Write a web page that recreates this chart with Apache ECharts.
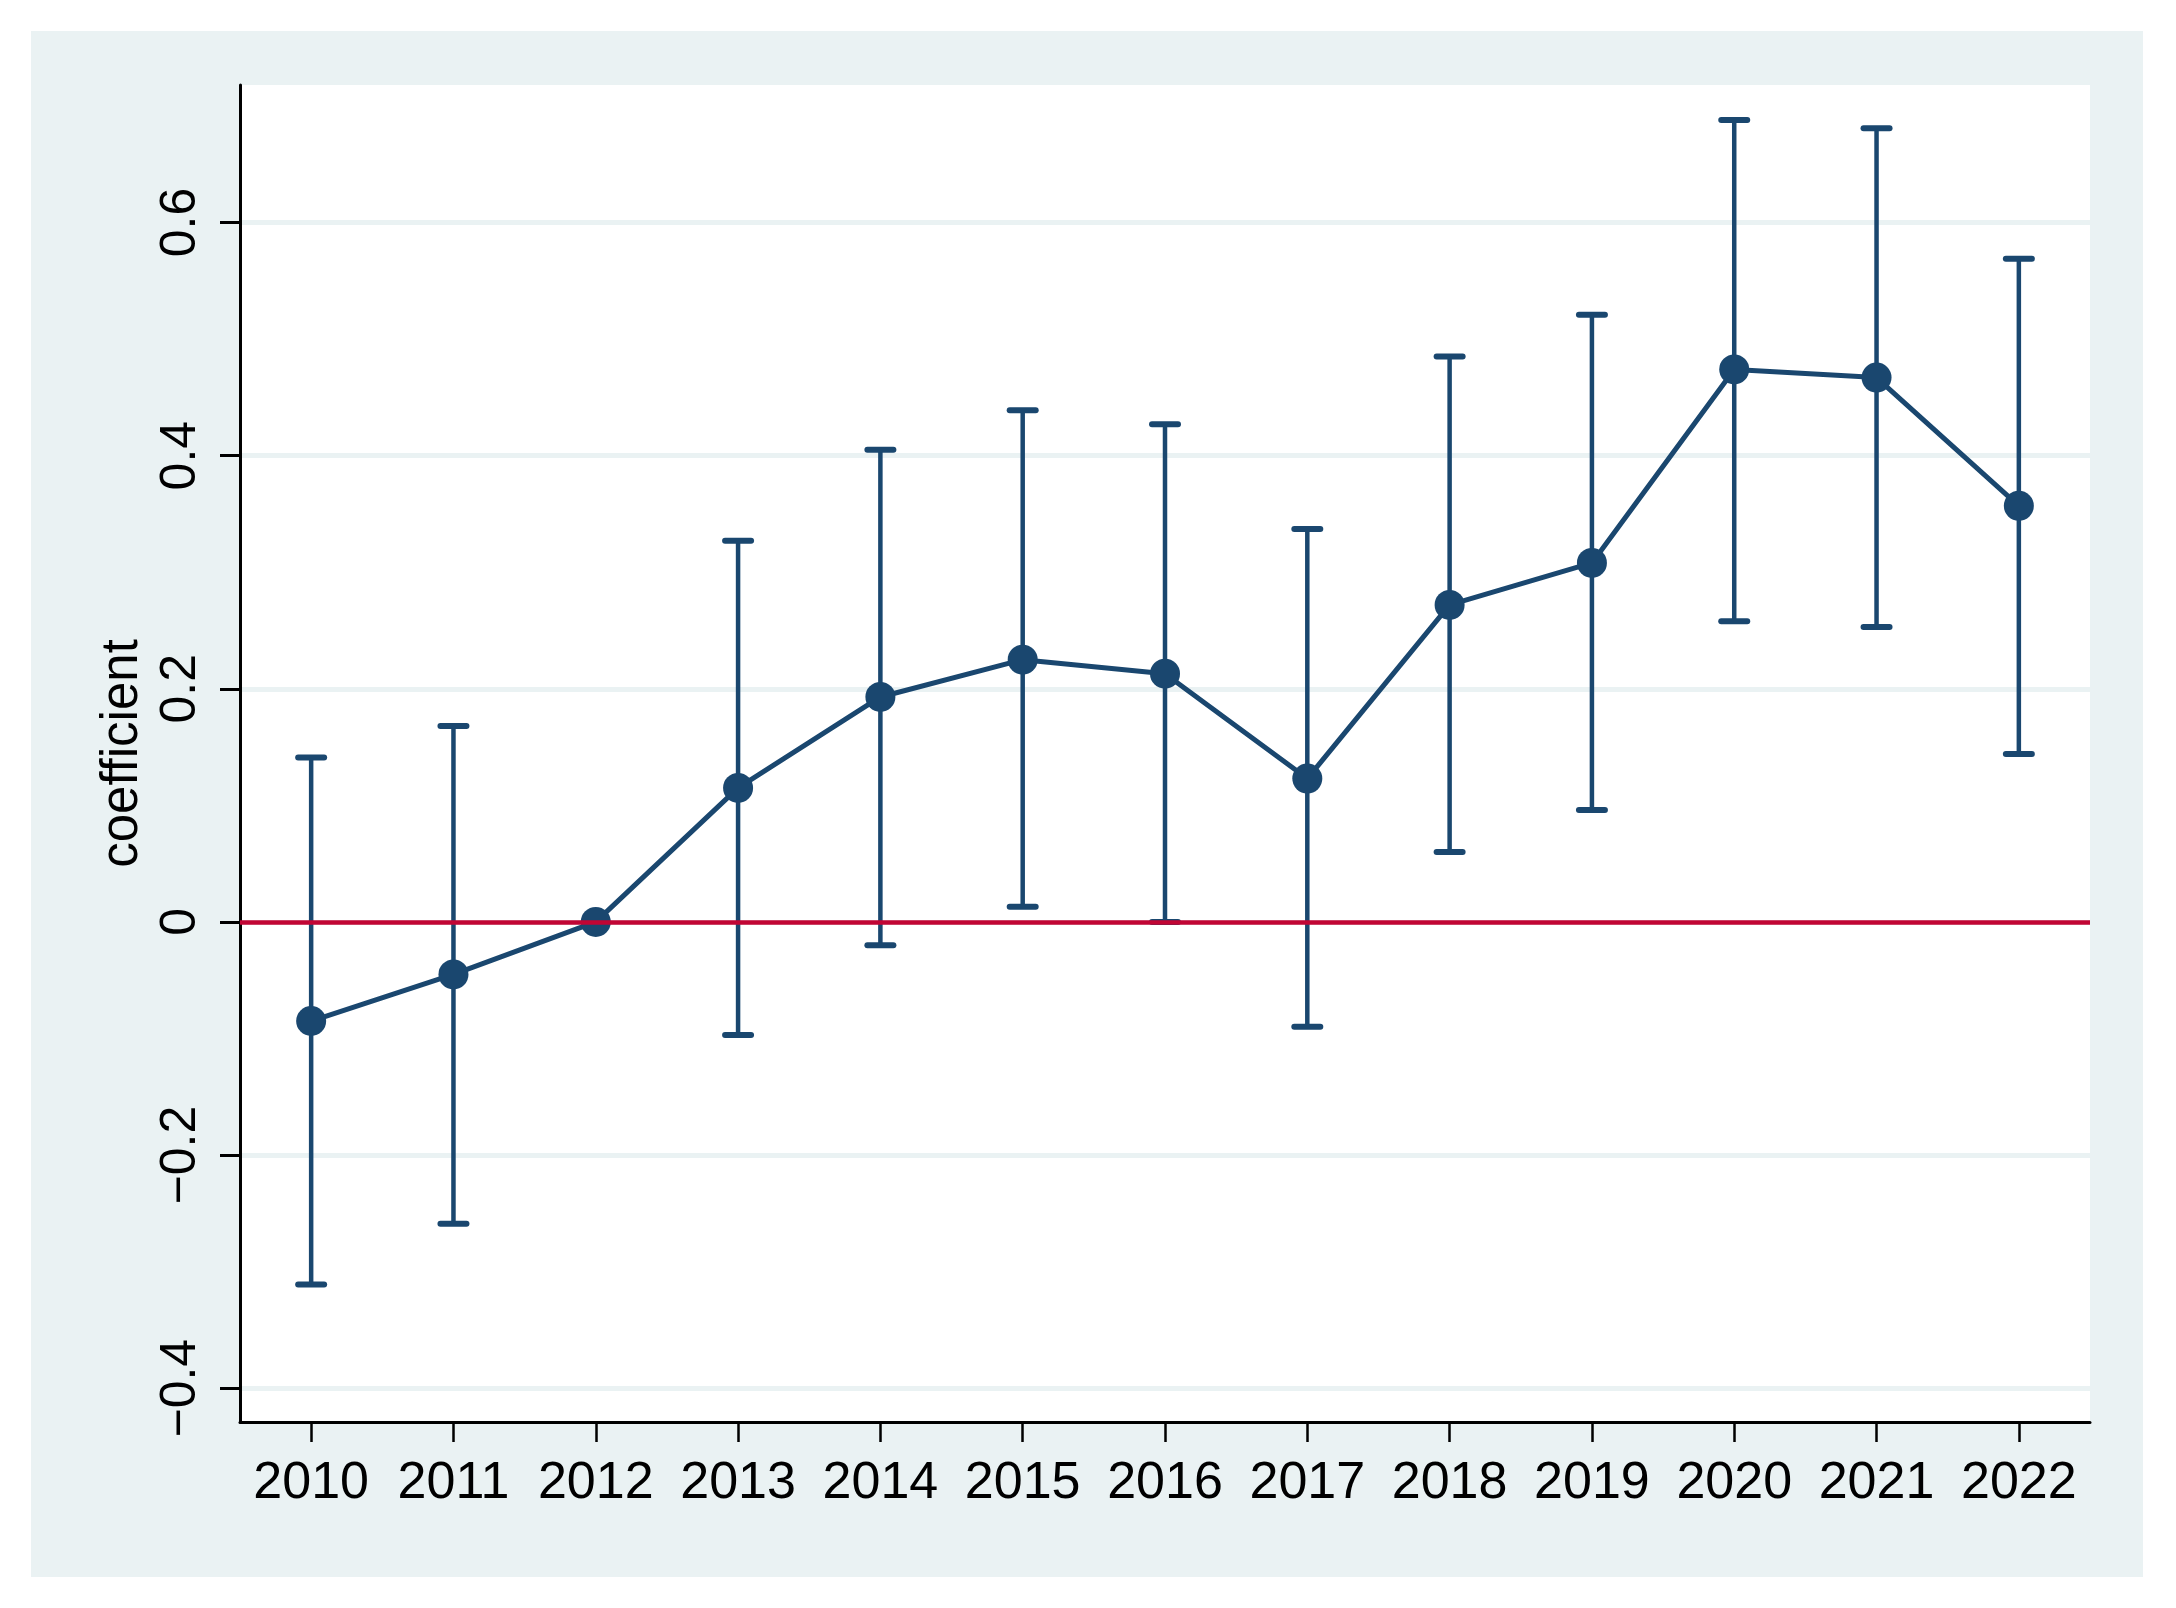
<!DOCTYPE html>
<html><head><meta charset="utf-8">
<script src="https://cdn.jsdelivr.net/npm/echarts@6/dist/echarts.min.js"></script>
<style>
html,body{margin:0;padding:0;background:#fff;width:2176px;height:1608px;overflow:hidden}
#c{position:absolute;left:31px;top:31px;width:2112px;height:1546px}
</style>
</head><body><div id="c"></div>
<script>
const years = ['2010','2011','2012','2013','2014','2015','2016','2017','2018','2019','2020','2021','2022'];
const coef   = [-0.085,-0.045, 0.000, 0.115, 0.193, 0.225, 0.213, 0.123, 0.272, 0.308, 0.474, 0.467, 0.357];
const ciLow  = [-0.311,-0.259, null, -0.097,-0.020, 0.013, 0.000,-0.090, 0.060, 0.096, 0.258, 0.253, 0.144];
const ciHigh = [ 0.141, 0.168, null,  0.327, 0.405, 0.439, 0.427, 0.337, 0.485, 0.521, 0.688, 0.681, 0.569];
const yTickValues = [-0.4,-0.2,0,0.2,0.4,0.6];
const yTickLabels = ['\u22120.4','\u22120.2','0','0.2','0.4','0.6'];
const refLineValue = 0;

const navy = '#1A476F', red = '#C10534', bg = '#EAF2F3';
const font = 'Liberation Sans, Arial, Helvetica, sans-serif';

const errData = [];
years.forEach((y,i)=>{ if (ciLow[i]!==null && ciHigh[i]!==null) errData.push([i, ciLow[i], ciHigh[i]]); });

const chart = echarts.init(document.getElementById('c'), null, {renderer:'canvas'});
chart.setOption({
  backgroundColor: bg,
  animation: false,
  grid: {left:209, right:53, top:54, bottom:155, show:true, backgroundColor:'#fff', borderWidth:0},
  xAxis: {
    type:'category', data: years, boundaryGap:true,
    axisLine:{show:true, onZero:false, lineStyle:{color:'#000', width:3}},
    axisTick:{show:true, interval:0, alignWithLabel:true, length:20, lineStyle:{color:'#000', width:2.5}},
    axisLabel:{color:'#000', interval:0, fontSize:52, fontFamily:font, margin:36},
    splitLine:{show:false}
  },
  yAxis: {
    type:'value', min:-0.429, max:0.718,
    name:'coefficient', nameLocation:'middle', nameRotate:90, nameGap:91,
    nameTextStyle:{color:'#000', fontSize:51, fontFamily:font},
    axisLine:{show:true, lineStyle:{color:'#000', width:3}},
    axisTick:{show:true, length:20, customValues: yTickValues, lineStyle:{color:'#000', width:3}},
    axisLabel:{color:'#000', fontSize:50, fontFamily:font, rotate:90, margin:34,
      customValues: yTickValues,
      formatter:(v)=>{ const k = yTickValues.findIndex(t=>Math.abs(t-v)<1e-9); return k>=0 ? yTickLabels[k] : ''; }},
    splitLine:{show:true, lineStyle:{color:bg, width:5}}
  },
  series: [
    { type:'line', data:[], z:1, silent:true,
      markLine:{silent:true, symbol:['none','none'], label:{show:false},
        lineStyle:{color:red, width:4.5, type:'solid'}, data:[{yAxis:refLineValue}]} },
    { type:'custom', z:3, data: errData, encode:{x:0, y:[1,2]},
      renderItem:(params, api)=>{
        const x = api.value(0), lo = api.value(1), hi = api.value(2);
        const a = api.coord([x, hi]), b = api.coord([x, lo]);
        const hw = 13;
        return {type:'group', children:[
          {type:'line', shape:{x1:a[0], y1:a[1], x2:b[0], y2:b[1]}, style:{stroke:navy, lineWidth:4.5}},
          {type:'line', shape:{x1:a[0]-hw, y1:a[1], x2:a[0]+hw, y2:a[1]}, style:{stroke:navy, lineWidth:6, lineCap:'round'}},
          {type:'line', shape:{x1:b[0]-hw, y1:b[1], x2:b[0]+hw, y2:b[1]}, style:{stroke:navy, lineWidth:6, lineCap:'round'}}
        ]};
      } },
    { type:'line', z:4, data: coef, symbol:'circle', symbolSize:30, showSymbol:true,
      lineStyle:{color:navy, width:5}, itemStyle:{color:navy}, silent:true }
  ]
});
</script>
</body></html>
